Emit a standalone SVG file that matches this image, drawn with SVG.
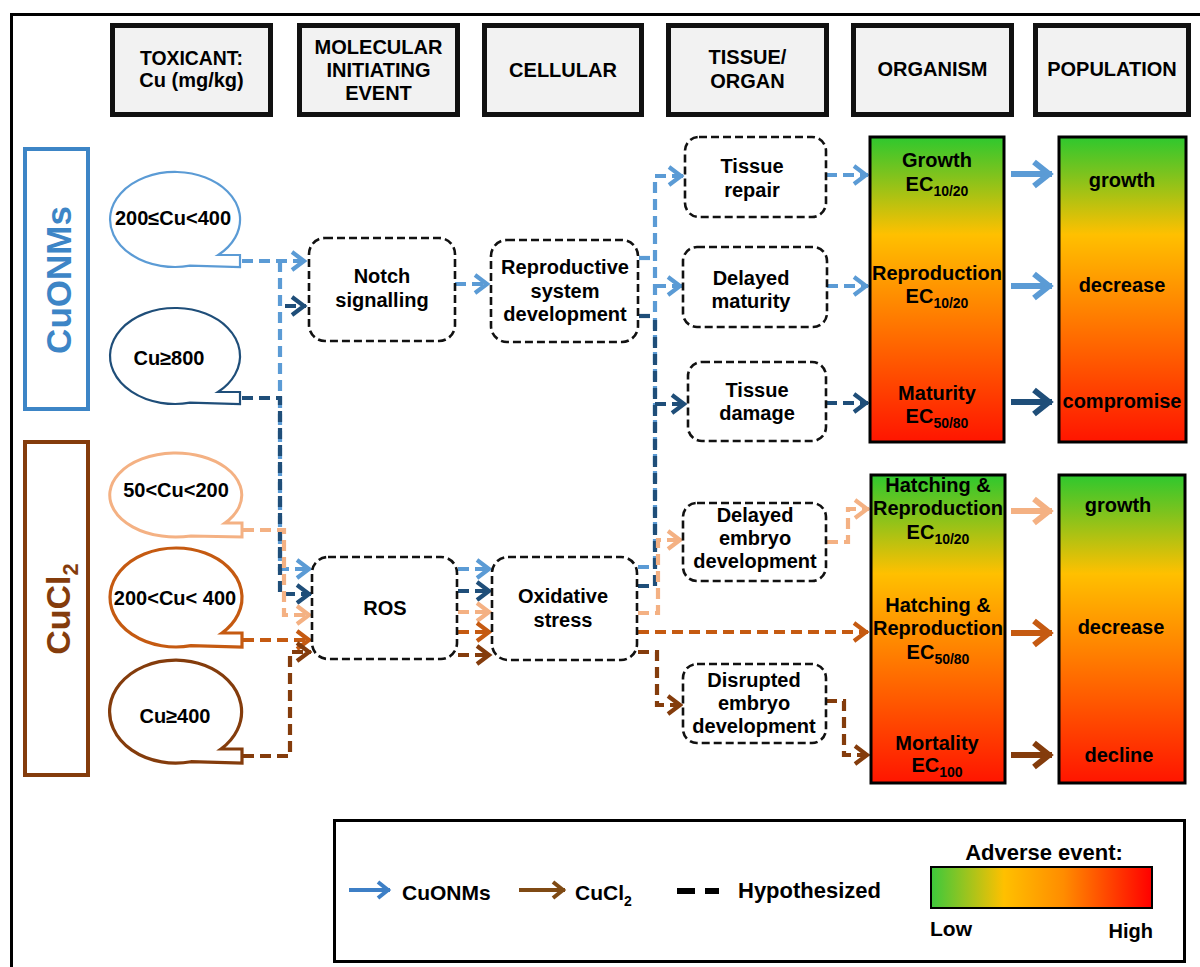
<svg xmlns="http://www.w3.org/2000/svg" width="1200" height="967" viewBox="0 0 1200 967">
<defs>
<linearGradient id="gv" x1="0" y1="0" x2="0" y2="1">
<stop offset="0" stop-color="#2ec82e"/>
<stop offset="0.12" stop-color="#7cc31e"/>
<stop offset="0.32" stop-color="#ffc000"/>
<stop offset="0.58" stop-color="#ff7f00"/>
<stop offset="1" stop-color="#ff1500"/>
</linearGradient>
<linearGradient id="gh" x1="0" y1="0" x2="1" y2="0">
<stop offset="0" stop-color="#3cc83c"/>
<stop offset="0.33" stop-color="#ffc000"/>
<stop offset="0.6" stop-color="#ff8c00"/>
<stop offset="1" stop-color="#ff0000"/>
</linearGradient>
<marker id="a-lb" viewBox="0 0 20 20" refX="17" refY="10" markerWidth="20" markerHeight="20" markerUnits="userSpaceOnUse" orient="auto" overflow="visible"><path d="M3,1 L15,10 L3,19" fill="none" stroke="#5b9bd5" stroke-width="4.2"/></marker>
<marker id="a-db" viewBox="0 0 20 20" refX="17" refY="10" markerWidth="20" markerHeight="20" markerUnits="userSpaceOnUse" orient="auto" overflow="visible"><path d="M3,1 L15,10 L3,19" fill="none" stroke="#1f4e79" stroke-width="4.2"/></marker>
<marker id="a-lo" viewBox="0 0 20 20" refX="17" refY="10" markerWidth="20" markerHeight="20" markerUnits="userSpaceOnUse" orient="auto" overflow="visible"><path d="M3,1 L15,10 L3,19" fill="none" stroke="#f4b183" stroke-width="4.2"/></marker>
<marker id="a-or" viewBox="0 0 20 20" refX="17" refY="10" markerWidth="20" markerHeight="20" markerUnits="userSpaceOnUse" orient="auto" overflow="visible"><path d="M3,1 L15,10 L3,19" fill="none" stroke="#c55a11" stroke-width="4.2"/></marker>
<marker id="a-br" viewBox="0 0 20 20" refX="17" refY="10" markerWidth="20" markerHeight="20" markerUnits="userSpaceOnUse" orient="auto" overflow="visible"><path d="M3,1 L15,10 L3,19" fill="none" stroke="#843c0c" stroke-width="4.2"/></marker>
<marker id="b-lb" viewBox="0 0 28 30" refX="24" refY="15" markerWidth="28" markerHeight="30" markerUnits="userSpaceOnUse" orient="auto" overflow="visible"><path d="M6,3 L21,15 L6,27" fill="none" stroke="#5b9bd5" stroke-width="6"/></marker>
<marker id="b-db" viewBox="0 0 28 30" refX="24" refY="15" markerWidth="28" markerHeight="30" markerUnits="userSpaceOnUse" orient="auto" overflow="visible"><path d="M6,3 L21,15 L6,27" fill="none" stroke="#1f4e79" stroke-width="6"/></marker>
<marker id="b-lo" viewBox="0 0 28 30" refX="24" refY="15" markerWidth="28" markerHeight="30" markerUnits="userSpaceOnUse" orient="auto" overflow="visible"><path d="M6,3 L21,15 L6,27" fill="none" stroke="#f4b183" stroke-width="6"/></marker>
<marker id="b-or" viewBox="0 0 28 30" refX="24" refY="15" markerWidth="28" markerHeight="30" markerUnits="userSpaceOnUse" orient="auto" overflow="visible"><path d="M6,3 L21,15 L6,27" fill="none" stroke="#c55a11" stroke-width="6"/></marker>
<marker id="b-br" viewBox="0 0 28 30" refX="24" refY="15" markerWidth="28" markerHeight="30" markerUnits="userSpaceOnUse" orient="auto" overflow="visible"><path d="M6,3 L21,15 L6,27" fill="none" stroke="#843c0c" stroke-width="6"/></marker>
<marker id="l-bl" viewBox="0 0 20 20" refX="17" refY="10" markerWidth="20" markerHeight="20" markerUnits="userSpaceOnUse" orient="auto" overflow="visible"><path d="M5,2 L15,10 L5,18" fill="none" stroke="#3d7fc6" stroke-width="4"/></marker>
<marker id="l-br" viewBox="0 0 20 20" refX="17" refY="10" markerWidth="20" markerHeight="20" markerUnits="userSpaceOnUse" orient="auto" overflow="visible"><path d="M5,2 L15,10 L5,18" fill="none" stroke="#7f4a14" stroke-width="4"/></marker>
</defs>
<style>
text{font-family:"Liberation Sans",Arial,sans-serif;font-weight:bold;fill:#000}
.hdr rect{fill:#f2f2f2;stroke:#111;stroke-width:5}
.hdr text{font-size:20px;text-anchor:middle}
.node rect{fill:#fff;stroke:#111;stroke-width:2.6;stroke-dasharray:8 4}
.node text{font-size:20px;text-anchor:middle}
.bub path{fill:#fff}
.bub text{font-size:20px;text-anchor:middle}
.grad rect{fill:url(#gv);stroke:#000;stroke-width:3}
.grad text{font-size:20px;text-anchor:middle}
.c{fill:none;stroke-width:4.2;stroke-dasharray:11 6}
.s{fill:none;stroke-width:6}
.lb{stroke:#5b9bd5}.db{stroke:#1f4e79}.lo{stroke:#f4b183}.or{stroke:#c55a11}.br{stroke:#843c0c}
</style>
<rect x="0" y="0" width="1200" height="967" fill="#fff"/>
<path d="M11.5,967 V14.5 H1200" fill="none" stroke="#000" stroke-width="3"/>

<g id="h-toxicant" class="hdr"><rect x="112.5" y="25.5" width="158" height="89"/><text x="191.5" y="65" textLength="103" lengthAdjust="spacingAndGlyphs">TOXICANT:</text><text x="191.5" y="87">Cu (mg/kg)</text></g>
<g id="h-mie" class="hdr"><rect x="299.5" y="25.5" width="158" height="89"/><text x="378.5" y="54">MOLECULAR</text><text x="378.5" y="77">INITIATING</text><text x="378.5" y="100">EVENT</text></g>
<g id="h-cellular" class="hdr"><rect x="484.5" y="25.5" width="157" height="89"/><text x="563" y="77">CELLULAR</text></g>
<g id="h-tissue" class="hdr"><rect x="668.5" y="25.5" width="158" height="89"/><text x="747.5" y="64">TISSUE/</text><text x="747.5" y="88">ORGAN</text></g>
<g id="h-organism" class="hdr"><rect x="853.5" y="25.5" width="158" height="89"/><text x="932.5" y="76">ORGANISM</text></g>
<g id="h-population" class="hdr"><rect x="1035.5" y="25.5" width="153" height="89"/><text x="1112" y="76">POPULATION</text></g>

<g id="cuonms-label"><rect x="25" y="149" width="63" height="260" fill="#fff" stroke="#3d85c6" stroke-width="4"/><text transform="translate(71,280) rotate(-90)" text-anchor="middle" font-size="35" style="fill:#3d85c6">CuONMs</text></g>
<g id="cucl2-label"><rect x="25" y="442" width="63" height="333" fill="#fff" stroke="#843c0c" stroke-width="4"/><text transform="translate(70,609) rotate(-90)" text-anchor="middle" font-size="34" style="fill:#843c0c">CuCl<tspan font-size="22" dy="8">2</tspan></text></g>

<g id="bubble-200-400-onm" class="bub"><path d="M218.2,255 L240,255 L240,267 L190,265.7 A65,47.5 0 1 1 218.2,255 Z" stroke="#5b9bd5" stroke-width="2.2"/><text x="173" y="225">200≤Cu&lt;400</text></g>
<g id="bubble-800-onm" class="bub"><path d="M218,392 L240,392 L240,404 L190,402.7 A65,48 0 1 1 218,392 Z" stroke="#1f4e79" stroke-width="2.2"/><text x="169" y="365">Cu≥800</text></g>
<g id="bubble-50-200" class="bub"><path d="M225,523 L242,523 L242,537 L191,535.9 A66,42 0 1 1 225,523 Z" stroke="#f4b183" stroke-width="3"/><text x="176" y="497">50&lt;Cu&lt;200</text></g>
<g id="bubble-200-400" class="bub"><path d="M222,633 L242,633 L242,647 L191,645.7 A66,49.5 0 1 1 222,633 Z" stroke="#c55a11" stroke-width="3.2"/><text x="175" y="605">200&lt;Cu&lt; 400</text></g>
<g id="bubble-400" class="bub"><path d="M221,749 L242,749 L242,763 L191,761.7 A66,51.5 0 1 1 221,749 Z" stroke="#843c0c" stroke-width="3.2"/><text x="175" y="723">Cu≥400</text></g>

<g id="connectors">
<path class="c lb" d="M242,261 H306" marker-end="url(#a-lb)"/>
<path class="c lb" d="M280,261 V569 H311" marker-end="url(#a-lb)"/>
<path class="c db" d="M242,398 H280 V594 H311" marker-end="url(#a-db)"/>
<path class="c db" d="M285,306 H306" marker-end="url(#a-db)"/>
<path class="c lo" d="M243,530 H284 V615 H311" marker-end="url(#a-lo)"/>
<path class="c or" d="M243,640 H311" marker-end="url(#a-or)"/>
<path class="c br" d="M243,756 H290 V652 H311" marker-end="url(#a-br)"/>
<path class="c lb" d="M455,284 H489" marker-end="url(#a-lb)"/>
<path class="c lb" d="M458,569 H491" marker-end="url(#a-lb)"/>
<path class="c db" d="M458,591 H491" marker-end="url(#a-db)"/>
<path class="c lo" d="M458,612 H491" marker-end="url(#a-lo)"/>
<path class="c or" d="M458,632 H491" marker-end="url(#a-or)"/>
<path class="c br" d="M458,655 H491" marker-end="url(#a-br)"/>
<path class="c lb" d="M639,258 H655"/>
<path class="c lb" d="M638,567 H655 V176 H683" marker-end="url(#a-lb)"/>
<path class="c lb" d="M655,286 H682" marker-end="url(#a-lb)"/>
<path class="c db" d="M639,316 H655"/>
<path class="c db" d="M638,586 H655 V316"/>
<path class="c db" d="M655,404 H686" marker-end="url(#a-db)"/>
<path class="c lo" d="M638,613 H658 V540 H682" marker-end="url(#a-lo)"/>
<path class="c or" d="M638,632 H868" marker-end="url(#a-or)"/>
<path class="c br" d="M638,652 H657 V705 H682" marker-end="url(#a-br)"/>
<path class="c lb" d="M826,175 H868" marker-end="url(#a-lb)"/>
<path class="c lb" d="M827,286 H868" marker-end="url(#a-lb)"/>
<path class="c db" d="M826,403 H868" marker-end="url(#a-db)"/>
<path class="c lo" d="M827,542 H848 V509 H869" marker-end="url(#a-lo)"/>
<path class="c br" d="M826,701 H844 V755 H869" marker-end="url(#a-br)"/>
<path class="s lb" d="M1011,174 H1052" marker-end="url(#b-lb)"/>
<path class="s lb" d="M1011,286 H1052" marker-end="url(#b-lb)"/>
<path class="s db" d="M1011,402 H1052" marker-end="url(#b-db)"/>
<path class="s lo" d="M1011,511 H1052" marker-end="url(#b-lo)"/>
<path class="s or" d="M1011,633 H1052" marker-end="url(#b-or)"/>
<path class="s br" d="M1011,755 H1052" marker-end="url(#b-br)"/>
</g>

<g id="n-notch" class="node"><rect x="309" y="238" width="146" height="103" rx="16"/><text x="382" y="283">Notch</text><text x="382" y="307">signalling</text></g>
<g id="n-repro" class="node"><rect x="491" y="240" width="147" height="102" rx="16"/><text x="565" y="274">Reproductive</text><text x="565" y="298">system</text><text x="565" y="321">development</text></g>
<g id="n-ros" class="node"><rect x="312" y="557" width="145" height="102" rx="16"/><text x="385" y="615">ROS</text></g>
<g id="n-oxidative" class="node"><rect x="492" y="557" width="145" height="103" rx="16"/><text x="563" y="603">Oxidative</text><text x="563" y="627">stress</text></g>
<g id="n-tissue-repair" class="node"><rect x="685" y="137" width="141" height="80" rx="14"/><text x="752" y="173">Tissue</text><text x="752" y="197">repair</text></g>
<g id="n-delayed-maturity" class="node"><rect x="683" y="247" width="144" height="80" rx="14"/><text x="751" y="285">Delayed</text><text x="751" y="308">maturity</text></g>
<g id="n-tissue-damage" class="node"><rect x="688" y="362" width="138" height="79" rx="14"/><text x="757" y="397">Tissue</text><text x="757" y="420">damage</text></g>
<g id="n-delayed-embryo" class="node"><rect x="683" y="503" width="143" height="78" rx="14"/><text x="755" y="522">Delayed</text><text x="755" y="545">embryo</text><text x="755" y="568">development</text></g>
<g id="n-disrupted-embryo" class="node"><rect x="683" y="664" width="143" height="79" rx="14"/><text x="754" y="687">Disrupted</text><text x="754" y="710">embryo</text><text x="754" y="733">development</text></g>

<g id="org-onm" class="grad"><rect x="870" y="137" width="134" height="305"/>
<text x="937" y="167">Growth</text><text x="937" y="191">EC<tspan font-size="14" dy="5">10/20</tspan></text>
<text x="937" y="280">Reproduction</text><text x="937" y="303">EC<tspan font-size="14" dy="5">10/20</tspan></text>
<text x="937" y="400">Maturity</text><text x="937" y="423">EC<tspan font-size="14" dy="5">50/80</tspan></text></g>
<g id="pop-onm" class="grad"><rect x="1059" y="137" width="127" height="305"/>
<text x="1122" y="187">growth</text><text x="1122" y="292">decrease</text><text x="1122" y="408">compromise</text></g>
<g id="org-cucl2" class="grad"><rect x="871" y="475" width="134" height="308"/>
<text x="938" y="492">Hatching &amp;</text><text x="938" y="515">Reproduction</text><text x="938" y="539">EC<tspan font-size="14" dy="5">10/20</tspan></text>
<text x="938" y="612">Hatching &amp;</text><text x="938" y="635">Reproduction</text><text x="938" y="659">EC<tspan font-size="14" dy="5">50/80</tspan></text>
<text x="937" y="750">Mortality</text><text x="937" y="772">EC<tspan font-size="14" dy="5">100</tspan></text></g>
<g id="pop-cucl2" class="grad"><rect x="1059" y="475" width="126" height="308"/>
<text x="1118" y="512">growth</text><text x="1121" y="634">decrease</text><text x="1119" y="762">decline</text></g>

<g id="legend">
<rect x="334.5" y="820.5" width="850" height="141" fill="#fff" stroke="#000" stroke-width="3"/>
<path d="M349,890 H390" fill="none" stroke="#3d7fc6" stroke-width="4" marker-end="url(#l-bl)"/>
<text x="402" y="900" font-size="21">CuONMs</text>
<path d="M519,890 H565" fill="none" stroke="#7f4a14" stroke-width="4" marker-end="url(#l-br)"/>
<text x="575" y="900" font-size="21">CuCl<tspan font-size="14" dy="6">2</tspan></text>
<rect x="677" y="888" width="18" height="6" fill="#000"/><rect x="705" y="888" width="14" height="6" fill="#000"/>
<text x="738" y="898" font-size="22">Hypothesized</text>
<text x="1044" y="860" font-size="22" text-anchor="middle">Adverse event:</text>
<rect x="931" y="867" width="221" height="41" fill="url(#gh)" stroke="#000" stroke-width="2"/>
<text x="930" y="936" font-size="21">Low</text>
<text x="1153" y="938" font-size="20" text-anchor="end">High</text>
</g>
</svg>
